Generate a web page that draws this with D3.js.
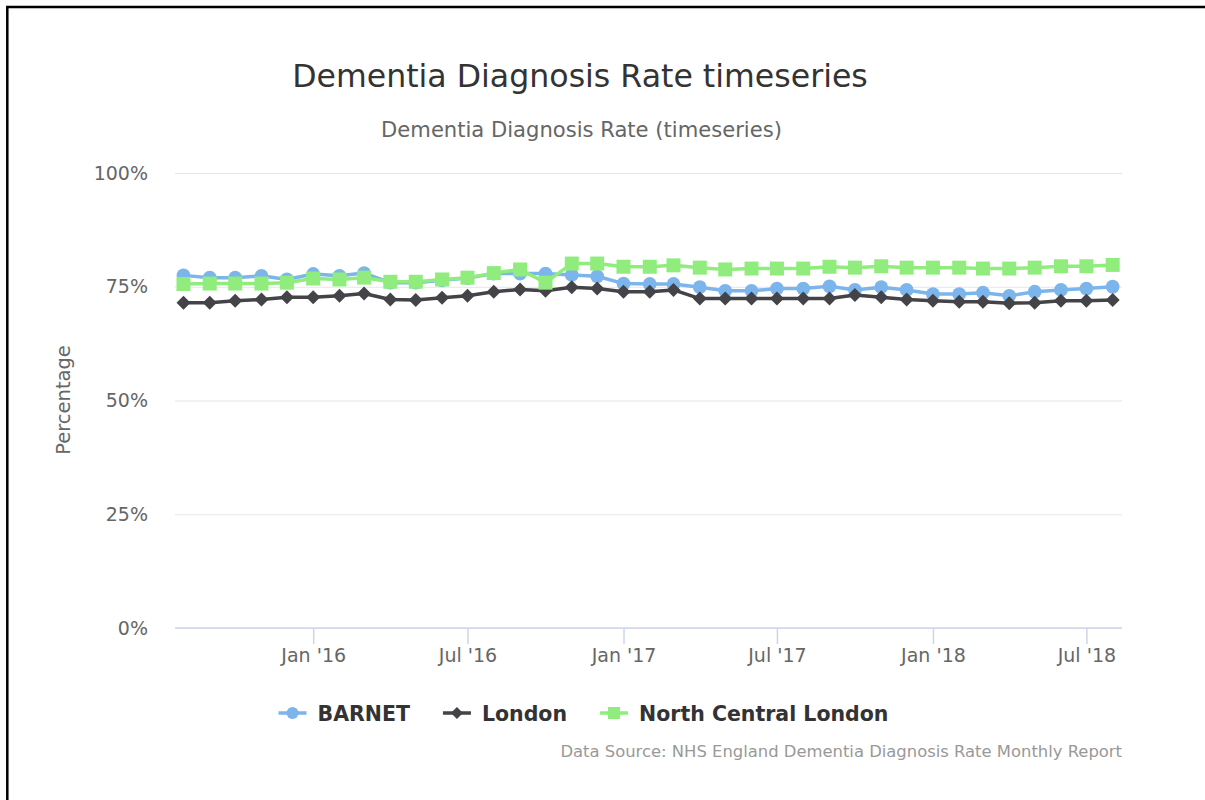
<!DOCTYPE html>
<html>
<head>
<meta charset="utf-8">
<script src="https://cdn.jsdelivr.net/npm/d3@7"></script>
<style>
    body { margin: 0; background: #fff; }
    svg { display: block; font-family: "DejaVu Sans", sans-serif; }
</style>
</head>
<body>
<div id="chart"></div>
<script>
var months = ['2015-08', '2015-09', '2015-10', '2015-11', '2015-12',
    '2016-01', '2016-02', '2016-03', '2016-04', '2016-05', '2016-06',
    '2016-07', '2016-08', '2016-09', '2016-10', '2016-11', '2016-12',
    '2017-01', '2017-02', '2017-03', '2017-04', '2017-05', '2017-06',
    '2017-07', '2017-08', '2017-09', '2017-10', '2017-11', '2017-12',
    '2018-01', '2018-02', '2018-03', '2018-04', '2018-05', '2018-06',
    '2018-07', '2018-08'];

var barnet = [77.5, 77.0, 77.0, 77.4, 76.6, 77.8, 77.4, 78.0, 75.9, 75.9,
    76.4, 76.9, 77.9, 77.9, 77.9, 77.6, 77.3, 75.7, 75.6, 75.6, 74.9, 74.1,
    74.1, 74.6, 74.6, 75.1, 74.3, 74.9, 74.3, 73.4, 73.4, 73.7, 73.0, 73.9,
    74.3, 74.6, 75.0];

var london = [71.5, 71.5, 71.9, 72.2, 72.7, 72.7, 73.0, 73.5, 72.2, 72.1,
    72.6, 73.0, 73.9, 74.4, 74.1, 74.9, 74.6, 73.9, 73.9, 74.3, 72.4, 72.4,
    72.4, 72.4, 72.4, 72.4, 73.2, 72.7, 72.2, 71.9, 71.7, 71.7, 71.4, 71.5,
    71.9, 71.9, 72.1];

var northCentral = [75.6, 75.7, 75.7, 75.7, 75.9, 76.8, 76.6, 77.0, 76.1,
    76.1, 76.6, 77.0, 78.0, 78.8, 75.9, 80.1, 80.1, 79.4, 79.4, 79.7, 79.2,
    78.8, 79.0, 79.0, 79.0, 79.4, 79.2, 79.5, 79.2, 79.2, 79.2, 79.0, 79.0,
    79.2, 79.5, 79.5, 79.8];

var seriesNames = ['BARNET', 'London', 'North Central London'];
var yTicks = [0, 25, 50, 75, 100];

function timeseriesChart(parentId) {

    let width = 1205;
    let height = 800;
    let margin = { left: 175, right: 1122, top: 173, bottom: 628 };

    let parseMonth = d3.utcParse('%Y-%m');
    let dates = months.map(parseMonth);

    let series = [
        { name: seriesNames[0], values: barnet, color: '#7cb5ec', symbol: 'circle' },
        { name: seriesNames[1], values: london, color: '#434348', symbol: 'diamond' },
        { name: seriesNames[2], values: northCentral, color: '#90ed7d', symbol: 'square' }
    ];

    let svg = d3.select('#' + parentId).append('svg')
        .attr('width', width)
        .attr('height', height);

    // frame of the screenshot
    svg.append('path')
        .attr('d', 'M7.3,' + height + 'V7H' + width)
        .style('fill', 'none')
        .style('stroke', '#000')
        .style('stroke-width', 2.5);

    let xScale = d3.scaleUtc()
        .domain([new Date(Date.UTC(2015, 6, 22)), new Date(Date.UTC(2018, 7, 12))])
        .range([margin.left, margin.right]);

    let yScale = d3.scaleLinear()
        .domain([0, 100])
        .range([margin.bottom, margin.top]);

    // titles
    svg.append('text')
        .attr('x', 580)
        .attr('y', 87)
        .attr('text-anchor', 'middle')
        .style('font-size', '31.6px')
        .style('fill', '#333333')
        .text('Dementia Diagnosis Rate timeseries');

    svg.append('text')
        .attr('x', 581.5)
        .attr('y', 137)
        .attr('text-anchor', 'middle')
        .style('font-size', '21.1px')
        .style('fill', '#666666')
        .text('Dementia Diagnosis Rate (timeseries)');

    // y grid + labels
    let yAxis = d3.axisLeft(yScale)
        .tickValues(yTicks)
        .tickSize(margin.left - margin.right)
        .tickPadding(27)
        .tickFormat(function (d) { return d + '%'; });

    let yG = svg.append('g')
        .attr('transform', 'translate(' + margin.left + ',0)')
        .call(yAxis);
    yG.select('.domain').remove();
    yG.selectAll('line').style('stroke', '#e6e6e6').style('stroke-width', 1.2);
    yG.selectAll('text')
        .style('font-size', '19px')
        .style('font-family', '"DejaVu Sans", sans-serif')
        .style('fill', '#666666');

    svg.append('text')
        .attr('transform', 'translate(70,400) rotate(-90)')
        .attr('text-anchor', 'middle')
        .style('font-size', '19.5px')
        .style('fill', '#666666')
        .text('Percentage');

    // x axis
    let xAxis = d3.axisBottom(xScale)
        .ticks(d3.utcMonth.every(6))
        .tickSize(16)
        .tickPadding(5)
        .tickFormat(d3.utcFormat("%b '%y"));

    let xG = svg.append('g')
        .attr('transform', 'translate(0,' + margin.bottom + ')')
        .call(xAxis);
    xG.select('.domain')
        .attr('d', 'M' + margin.left + ',0H' + margin.right)
        .style('stroke', '#ccd6eb')
        .style('stroke-width', 1.5);
    xG.selectAll('line').style('stroke', '#ccd6eb').style('stroke-width', 1.5);
    xG.selectAll('text')
        .style('font-size', '19px')
        .style('font-family', '"DejaVu Sans", sans-serif')
        .style('fill', '#666666');

    // lines + markers
    let line = d3.line()
        .x(function (d, i) { return xScale(dates[i]); })
        .y(function (d) { return yScale(d); });

    let symbols = {
        circle: d3.symbol().type(d3.symbolCircle).size(Math.PI * 6.9 * 6.9),
        diamond: d3.symbol().type(d3.symbolSquare).size(98),
        square: d3.symbol().type(d3.symbolSquare).size(14 * 14)
    };

    series.forEach(function (s) {
        let g = svg.append('g').classed('series', true);

        g.append('path')
            .attr('d', line(s.values))
            .style('fill', 'none')
            .style('stroke', s.color)
            .style('stroke-width', 3.5)
            .style('stroke-linejoin', 'round')
            .style('stroke-linecap', 'round');

        g.selectAll('.marker')
            .data(s.values)
            .enter()
            .append('path')
            .classed('marker', true)
            .attr('d', symbols[s.symbol])
            .attr('transform', function (d, i) {
                let t = 'translate(' + xScale(dates[i]) + ',' + yScale(d) + ')';
                return s.symbol === 'diamond' ? t + ' rotate(45)' : t;
            })
            .style('fill', s.color);
    });

    // legend
    let legend = svg.append('g').classed('legend', true);
    let lx = 0;
    let legendSymbols = {
        circle: d3.symbol().type(d3.symbolCircle).size(Math.PI * 6 * 6),
        diamond: d3.symbol().type(d3.symbolSquare).size(72),
        square: d3.symbol().type(d3.symbolSquare).size(144)
    };

    series.forEach(function (s) {
        let item = legend.append('g').attr('transform', 'translate(' + lx + ',0)');
        item.append('line')
            .attr('x1', 0).attr('x2', 28)
            .attr('y1', 0).attr('y2', 0)
            .style('stroke', s.color)
            .style('stroke-width', 3.5);
        item.append('path')
            .attr('d', legendSymbols[s.symbol])
            .attr('transform', 'translate(14,0)' + (s.symbol === 'diamond' ? ' rotate(45)' : ''))
            .style('fill', s.color);
        let txt = item.append('text')
            .attr('x', 39)
            .attr('y', 7.5)
            .style('font-size', '20.5px')
            .style('font-weight', 'bold')
            .style('fill', '#333333')
            .text(s.name);
        lx += 39 + txt.node().getComputedTextLength() + 33;
    });
    lx -= 33;
    legend.attr('transform', 'translate(' + (583.5 - lx / 2) + ',713)');

    // credits
    svg.append('text')
        .attr('x', 1122)
        .attr('y', 757)
        .attr('text-anchor', 'end')
        .style('font-size', '16.4px')
        .style('fill', '#999999')
        .text('Data Source: NHS England Dementia Diagnosis Rate Monthly Report');
}

timeseriesChart('chart');
</script>
</body>
</html>
